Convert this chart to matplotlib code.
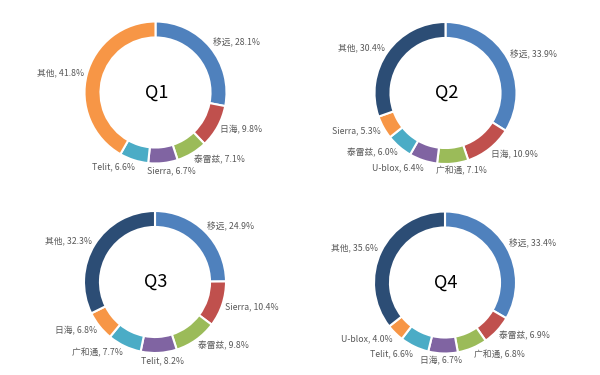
import matplotlib
matplotlib.use("Agg")
import matplotlib.pyplot as plt
import numpy as np

plt.rcParams['font.family'] = ['Noto Sans CJK SC', 'DejaVu Sans']

titles = ["Q1", "Q2", "Q3", "Q4"]
q1_names = ["移远", "日海", "泰雷兹", "Sierra", "Telit", "其他"]
q1_vals = [28.1, 9.8, 7.1, 6.7, 6.6, 41.8]
q2_names = ["移远", "日海", "广和通", "U-blox", "泰雷兹", "Sierra", "其他"]
q2_vals = [33.9, 10.9, 7.1, 6.4, 6.0, 5.3, 30.4]
q3_names = ["移远", "Sierra", "泰雷兹", "Telit", "广和通", "日海", "其他"]
q3_vals = [24.9, 10.4, 9.8, 8.2, 7.7, 6.8, 32.3]
q4_names = ["移远", "泰雷兹", "广和通", "日海", "Telit", "U-blox", "其他"]
q4_vals = [33.4, 6.9, 6.8, 6.7, 6.6, 4.0, 35.6]

c_blue, c_red, c_green, c_purple, c_teal, c_orange, c_navy = (
    "#4F81BD", "#C0504D", "#9BBB59", "#8064A2", "#4BACC6", "#F79646", "#2C4D75")
q1_colors = [c_blue, c_red, c_green, c_purple, c_teal, c_orange]
q_colors = [c_blue, c_red, c_green, c_purple, c_teal, c_orange, c_navy]

W, H = 600, 375
R = 71.0  # outer radius in px
fig = plt.figure(figsize=(6, 3.75), dpi=100)

centers = [(155.5, 92.5), (445.5, 93), (155, 282), (445, 282.5)]
datasets = [(q1_names, q1_vals, q1_colors), (q2_names, q2_vals, q_colors),
            (q3_names, q3_vals, q_colors), (q4_names, q4_vals, q_colors)]

labels = []
for (cx, cy), title, (names, vals, cols) in zip(centers, titles, datasets):
    ax = fig.add_axes([(cx - 150) / W, 1 - (cy + 94) / H, 300 / W, 188 / H])
    ax.pie(vals, colors=cols, startangle=90, counterclock=False, radius=1.0,
           wedgeprops=dict(width=0.225, edgecolor='white', linewidth=1.5))
    ax.set_xlim(-150 / R, 150 / R)
    ax.set_ylim(-94 / R, 94 / R)
    ax.set_aspect('equal')
    ax.axis('off')
    ax.text(0.01, 0, title, ha='center', va='center', fontsize=13, color='black')
    total = sum(vals)
    cum = 0
    for name, v in zip(names, vals):
        ang = np.deg2rad(90 - (cum + v / 2) / total * 360)
        cum += v
        t = ax.text(0, 0, f"{name}, {v:.1f}%", ha='center', va='center',
                    fontsize=6.3, color='#595959')
        labels.append((ax, t, np.cos(ang), np.sin(ang)))

fig.canvas.draw()
renderer = fig.canvas.get_renderer()
gap = 3.0

for ax, t, c, s in labels:
    bb = t.get_window_extent(renderer)
    hw = bb.width / 2 / R
    hh = bb.height / 2 / R
    x = (1 + gap / R) * c + hw * np.sign(c) * min(1.0, 3 * abs(c))
    y = (1 + gap / R) * s + hh * s
    t.set_position((x, y))

fig.savefig("out.png", dpi=100)
